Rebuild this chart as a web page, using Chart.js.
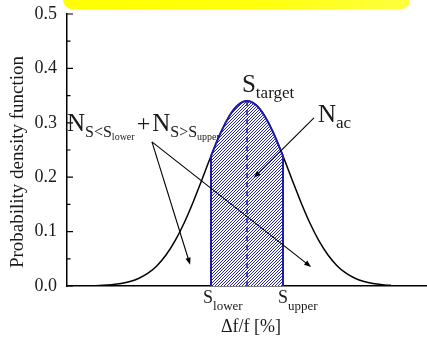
<!DOCTYPE html>
<html>
<head>
<meta charset="utf-8">
<script src="https://cdn.jsdelivr.net/npm/chart.js@4.4.1/dist/chart.umd.min.js"></script>
<style>
  body { margin: 0; background: #fff; }
  #pdf { display: block; }
</style>
</head>
<body>
<canvas id="pdf" width="427" height="338"></canvas>
<script>
// curve (x in sigma-ish units, y = density)
const xValues = [-5, -4.75, -4.5, -4.25, -4, -3.75, -3.5, -3.25, -3, -2.75, -2.5, -2.25, -2, -1.75, -1.5, -1.25,
  -1, -0.75, -0.5, -0.25, 0, 0.25, 0.5, 0.75, 1, 1.25, 1.5, 1.75, 2, 2.25, 2.5, 2.75, 3, 3.25, 3.5, 3.75, 4];
const densityValues = [0.0000, 0.0001, 0.0003, 0.0006, 0.0012, 0.0024, 0.0045, 0.0082, 0.0142, 0.0235, 0.0374, 0.0569, 0.0828, 0.1153, 0.1536, 0.1958,
  0.2389, 0.2788, 0.3113, 0.3326, 0.3400, 0.3326, 0.3113, 0.2788, 0.2389, 0.1958, 0.1536, 0.1153, 0.0828, 0.0569, 0.0374, 0.0235, 0.0142, 0.0082, 0.0045, 0.0024, 0.0012];

// accepted band S_lower..S_upper
const bandX = [-1, -0.75, -0.5, -0.25, 0, 0.25, 0.5, 0.75, 1];
const bandValues = [0.2389, 0.2788, 0.3113, 0.3326, 0.3400, 0.3326, 0.3113, 0.2788, 0.2389];
const sLower = -1;
const sTarget = 0;
const sUpper = 1;

const yTicks = [0, 0.1, 0.2, 0.3, 0.4, 0.5];

// arrows: [fromX, fromY, toX, toY] in data units
const arrows = [
  [-2.64, 0.265, -1.58, 0.039],
  [-2.64, 0.265, 1.78, 0.035],
  [1.86, 0.309, 0.19, 0.199]
];

// text pieces: [text, size, baseline shift, gap before]
const notes = [
  { x: -5.0, y: 0.285, runs: [['N', 25, 0, 0], ['S<S', 16, 6, 0], ['lower', 10, 9, 0], ['+', 24, 0, 2], ['N', 25, 0, 2], ['S>S', 16, 6, 0], ['upper', 10, 9, 0]] },
  { x: -0.14, y: 0.357, runs: [['S', 25, 0, 0], ['target', 17, 6, 0]] },
  { x: 1.97, y: 0.301, runs: [['N', 25, 0, 0], ['ac', 17, 6, 0]] },
  { x: -1.22, y: -0.031, runs: [['S', 18, 0, 0], ['lower', 13, 7, 0]] },
  { x: 0.86, y: -0.031, runs: [['S', 18, 0, 0], ['upper', 13, 7, 0]] }
];

const serif = '"Liberation Serif", "Times New Roman", serif';
const ink = '#1a1a1a';
const blue = '#1c1ca8';

function hatch() {
  const c = document.createElement('canvas');
  c.width = 3; c.height = 3;
  const g = c.getContext('2d');
  g.fillStyle = '#fff';
  g.fillRect(0, 0, 3, 3);
  g.strokeStyle = '#2222b4';
  g.lineWidth = 1;
  g.beginPath();
  g.moveTo(0, 3); g.lineTo(3, 0);
  g.moveTo(-1, 1); g.lineTo(1, -1);
  g.moveTo(2, 4); g.lineTo(4, 2);
  g.stroke();
  return g.createPattern(c, 'repeat');
}

function drawRuns(ctx, x, y, runs) {
  ctx.textBaseline = 'alphabetic';
  ctx.textAlign = 'left';
  runs.forEach(([t, size, dy, gap]) => {
    ctx.font = size + 'px ' + serif;
    x += gap;
    ctx.fillText(t, x, y + dy);
    x += ctx.measureText(t).width;
  });
}

function arrow(ctx, x1, y1, x2, y2) {
  const a = Math.atan2(y2 - y1, x2 - x1);
  ctx.beginPath();
  ctx.moveTo(x1, y1);
  ctx.lineTo(x2 - 5 * Math.cos(a), y2 - 5 * Math.sin(a));
  ctx.stroke();
  ctx.beginPath();
  ctx.moveTo(x2, y2);
  ctx.lineTo(x2 - 7 * Math.cos(a) + 2.6 * Math.sin(a), y2 - 7 * Math.sin(a) - 2.6 * Math.cos(a));
  ctx.lineTo(x2 - 7 * Math.cos(a) - 2.6 * Math.sin(a), y2 - 7 * Math.sin(a) + 2.6 * Math.cos(a));
  ctx.closePath();
  ctx.fill();
}

const extras = {
  id: 'extras',
  afterDatasetsDraw(chart) {
    const ctx = chart.ctx;
    const xs = chart.scales.x, ys = chart.scales.y;
    const px = v => xs.getPixelForValue(v), py = v => ys.getPixelForValue(v);
    ctx.save();

    // band edges + target line
    ctx.strokeStyle = blue;
    ctx.lineWidth = 2;
    ctx.beginPath();
    ctx.moveTo(px(sLower), py(0)); ctx.lineTo(px(sLower), py(bandValues[0]));
    ctx.moveTo(px(sUpper), py(0)); ctx.lineTo(px(sUpper), py(bandValues[bandValues.length - 1]));
    ctx.stroke();
    ctx.lineWidth = 1.5;
    ctx.setLineDash([5, 4]);
    ctx.beginPath();
    ctx.moveTo(px(sTarget), py(0)); ctx.lineTo(px(sTarget), py(bandValues[4]));
    ctx.stroke();
    ctx.setLineDash([]);

    // inward ticks on y axis
    ctx.strokeStyle = '#000';
    ctx.lineWidth = 1.2;
    const left = chart.chartArea.left;
    ctx.beginPath();
    for (let i = 0; i < yTicks.length; i++) {
      ctx.moveTo(left, py(yTicks[i])); ctx.lineTo(left + 6, py(yTicks[i]));
      if (i < yTicks.length - 1) {
        const m = (yTicks[i] + yTicks[i + 1]) / 2;
        ctx.moveTo(left, py(m)); ctx.lineTo(left + 3.5, py(m));
      }
    }
    ctx.stroke();

    // arrows
    ctx.strokeStyle = '#000';
    ctx.fillStyle = '#000';
    ctx.lineWidth = 1.1;
    arrows.forEach(a => arrow(ctx, px(a[0]), py(a[1]), px(a[2]), py(a[3])));

    // annotations
    ctx.fillStyle = ink;
    notes.forEach(n => drawRuns(ctx, px(n.x), py(n.y), n.runs));

    // axis titles
    ctx.font = '18px ' + serif;
    ctx.textAlign = 'center';
    ctx.fillText('\u0394f/f [%]', (chart.chartArea.left + chart.chartArea.right) / 2 + 4, 332);
    ctx.translate(23, 162);
    ctx.rotate(-Math.PI / 2);
    ctx.font = '19px ' + serif;
    ctx.fillText('Probability density function', 0, 0);
    ctx.restore();
  },
  afterDraw(chart) {
    // yellow banner cut off at the top
    const ctx = chart.ctx;
    ctx.save();
    const grad = ctx.createLinearGradient(63, 0, 410, 0);
    grad.addColorStop(0, '#ffff00');
    grad.addColorStop(0.6, '#ffff10');
    grad.addColorStop(1, '#ffff40');
    ctx.fillStyle = grad;
    ctx.beginPath();
    ctx.roundRect(63, -12, 347, 21.5, 10);
    ctx.fill();
    ctx.restore();
  }
};

const ctx = document.getElementById('pdf').getContext('2d');
const pdfChart = new Chart(ctx, {
  type: 'line',
  data: {
    datasets: [
      {
        data: bandX.map((x, i) => ({ x: x, y: bandValues[i] })),
        borderColor: blue,
        borderWidth: 2,
        backgroundColor: hatch(),
        fill: 'origin',
        pointRadius: 0,
        tension: 0.4,
        order: 0
      },
      {
        data: xValues.map((x, i) => ({ x: x, y: densityValues[i] })),
        borderColor: '#000',
        borderWidth: 1.5,
        fill: false,
        pointRadius: 0,
        tension: 0.4,
        order: 1
      }
    ]
  },
  options: {
    responsive: false,
    animation: false,
    layout: { padding: { top: 14, right: 0, left: 0, bottom: 0 } },
    plugins: { legend: { display: false }, tooltip: { enabled: false } },
    scales: {
      x: {
        type: 'linear',
        min: -5,
        max: 5,
        ticks: { display: false },
        grid: { display: false, drawTicks: false },
        border: { color: '#000', width: 1.5 },
        afterFit(s) { s.height = 52; s.paddingLeft = 0; s.paddingRight = 0; }
      },
      y: {
        min: 0,
        max: 0.5,
        ticks: {
          stepSize: 0.1,
          padding: 10,
          color: ink,
          font: { family: serif, size: 18 },
          callback: v => v.toFixed(1)
        },
        grid: { display: false, drawTicks: false },
        border: { color: '#000', width: 1.5 },
        afterFit(s) { s.width = 67; s.paddingTop = 0; s.paddingBottom = 0; }
      }
    }
  },
  plugins: [extras]
});
</script>
</body>
</html>
